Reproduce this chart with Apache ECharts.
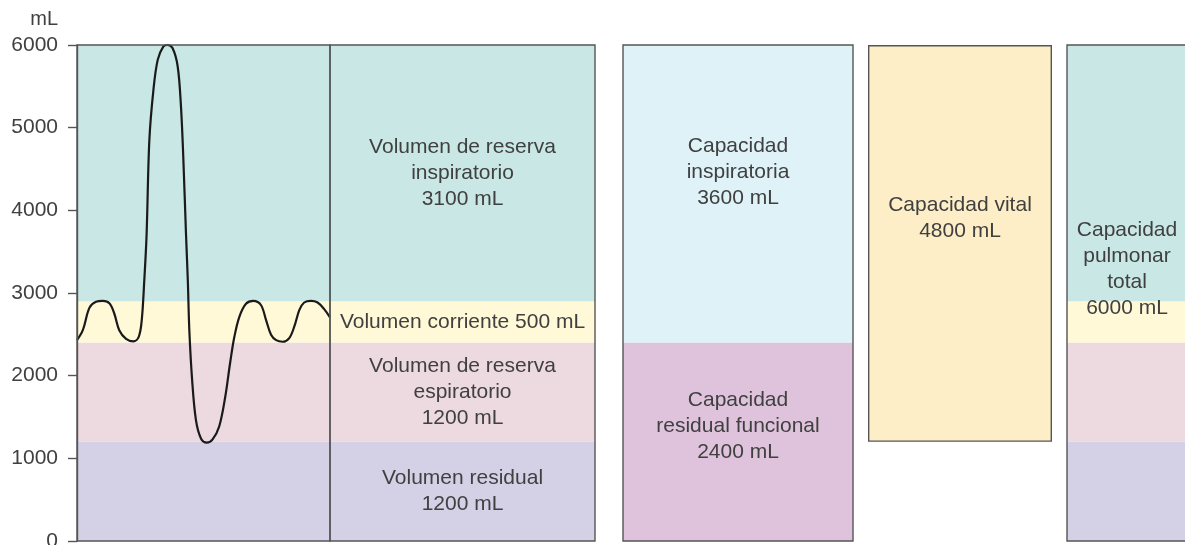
<!DOCTYPE html>
<html>
<head>
<meta charset="utf-8">
<script src="https://cdn.jsdelivr.net/npm/echarts@6/dist/echarts.min.js"></script>
<style>
html,body{margin:0;padding:0;background:#fff;}
#chart{width:1185px;height:545px;}
</style>
</head>
<body>
<div id="chart"></div>
<script>
// ---- data ----
const yTicks = [0, 1000, 2000, 3000, 4000, 5000, 6000];
const yUnit = 'mL';

// lung volumes (bottom to top)
const volNames = ['Volumen residual', 'Volumen de reserva\nespiratorio', 'Volumen corriente', 'Volumen de reserva\ninspiratorio'];
const volValues = [1200, 1200, 500, 3100];
const volSep = ['\n', '\n', ' ', '\n'];

// capacities
const capNames = ['Capacidad\nresidual funcional', 'Capacidad\ninspiratoria'];
const capValues = [2400, 3600];
const vitalName = 'Capacidad vital';
const vitalBase = 1200;
const vitalValue = 4800;
const totalName = 'Capacidad\npulmonar\ntotal';
const totalValue = 6000;

// spirogram trace (time in arbitrary units, volume in mL)
const timeSec = [0,0.23,0.49,0.75,1.02,1.28,1.47,1.67,1.94,2.23,2.44,2.56,2.66,2.75,2.86,3.02,3.19,3.41,3.58,3.78,3.98,4.11,4.20,4.31,4.38,4.44,4.55,4.70,4.90,5.13,5.36,5.62,5.86,6.05,6.22,6.42,6.68,6.97,7.27,7.47,7.67,7.87,8.13,8.39,8.59,8.79,8.98,9.25,9.51,9.77,10];
const lungVolume = [2430,2550,2820,2895,2905,2875,2755,2550,2445,2415,2470,2675,3155,3700,4850,5455,5820,5980,6000,5960,5740,5255,4650,3700,3155,2550,1950,1465,1240,1190,1230,1385,1745,2150,2470,2715,2870,2905,2855,2675,2495,2430,2410,2455,2595,2795,2885,2905,2885,2805,2705];

// ---- styles ----
const volColors = ['#d4d1e6', '#edd9e0', '#fff9d8', '#c8e7e5'];
const capColors = ['#dfc3dc', '#dff2f8'];
const vitalColor = '#fdeec7';
const FONT = 'Liberation Sans, Arial, sans-serif';
const TXT = '#404040';
const BORDER = '#555';
const labelStyle = {fontFamily: FONT, fontSize: 21, lineHeight: 26, color: TXT};

const grids = [
  {left: 77, top: 45, width: 253, height: 496},
  {left: 330, top: 45, width: 265, height: 496},
  {left: 623, top: 45, width: 230, height: 496},
  {left: 868, top: 45, width: 184, height: 496},
  {left: 1067, top: 45, width: 120, height: 496}
].map((g, i) => Object.assign({show: i !== 3, borderColor: BORDER, borderWidth: 1.4, backgroundColor: 'transparent', z: 10, containLabel: false, outerBoundsMode: 'none'}, g));

const xAxes = [];
const yAxes = [];
for (let i = 0; i < 5; i++) {
  xAxes.push({type: 'category', gridIndex: i, data: ['a'], show: false, boundaryGap: true});
  yAxes.push({type: 'value', gridIndex: i, min: yTicks[0], max: yTicks[yTicks.length - 1], interval: yTicks[1] - yTicks[0], show: i === 0});
}
// value x axis for trace (index 5)
xAxes.push({type: 'value', gridIndex: 0, min: timeSec[0], max: timeSec[timeSec.length - 1], show: false});

Object.assign(yAxes[0], {
  z: 10,
  name: yUnit,
  nameLocation: 'end',
  nameGap: 26,
  nameTextStyle: {fontFamily: FONT, fontSize: 20, color: TXT, align: 'right', verticalAlign: 'middle', padding: [0, 19, 0, 0]},
  axisLine: {show: true, lineStyle: {color: BORDER, width: 1.4}},
  axisTick: {show: true, inside: false, length: 9, lineStyle: {color: BORDER, width: 1.4}},
  axisLabel: {show: true, margin: 19, fontFamily: FONT, fontSize: 21, color: TXT, formatter: v => String(v)},
  splitLine: {show: false}
});

const series = [];
// grid 0: bands behind trace
volValues.forEach((v, i) => {
  series.push({type: 'bar', xAxisIndex: 0, yAxisIndex: 0, stack: 'g0', barWidth: '100%', silent: true,
    itemStyle: {color: volColors[i]}, data: [v]});
});
series.push({type: 'line', xAxisIndex: 5, yAxisIndex: 0, data: timeSec.map((t, i) => [t, lungVolume[i]]),
  smooth: 0.35, symbol: 'none', clip: false, z: 6, silent: true,
  lineStyle: {color: '#1a1a1a', width: 2.2}});
// grid 1: labelled volumes
volValues.forEach((v, i) => {
  series.push({type: 'bar', xAxisIndex: 1, yAxisIndex: 1, stack: 'g1', barWidth: '100%', silent: true,
    itemStyle: {color: volColors[i]}, data: [v],
    label: Object.assign({show: true, position: 'inside', formatter: () => volNames[i] + volSep[i] + v + ' mL'}, labelStyle)});
});
// grid 2: capacities
const capOffsets = [[0, -16], [0, -22]];
capValues.forEach((v, i) => {
  series.push({type: 'bar', xAxisIndex: 2, yAxisIndex: 2, stack: 'g2', barWidth: '100%', silent: true,
    itemStyle: {color: capColors[i]}, data: [v],
    label: Object.assign({show: true, position: 'inside', offset: capOffsets[i], formatter: () => capNames[i] + '\n' + v + ' mL'}, labelStyle)});
});
// grid 3: vital capacity
series.push({type: 'bar', xAxisIndex: 3, yAxisIndex: 3, stack: 'g3', barWidth: '100%', silent: true,
  itemStyle: {color: 'transparent'}, data: [vitalBase]});
series.push({type: 'bar', xAxisIndex: 3, yAxisIndex: 3, stack: 'g3', barWidth: '100%', silent: true,
  itemStyle: {color: vitalColor, borderColor: BORDER, borderWidth: 1.4}, data: [vitalValue],
  label: Object.assign({show: true, position: 'inside', offset: [0, -25], formatter: () => vitalName + '\n' + vitalValue + ' mL'}, labelStyle)});
// grid 4: total lung capacity
volValues.forEach((v, i) => {
  series.push({type: 'bar', xAxisIndex: 4, yAxisIndex: 4, stack: 'g4', barWidth: '100%', barGap: '-100%', silent: true,
    itemStyle: {color: volColors[i]}, data: [v]});
});
series.push({type: 'bar', xAxisIndex: 4, yAxisIndex: 4, barWidth: '100%', barGap: '-100%', silent: true, z: 5,
  itemStyle: {color: 'transparent'}, data: [totalValue],
  label: Object.assign({show: true, position: 'inside', offset: [0, -24], formatter: () => totalName + '\n' + totalValue + ' mL'}, labelStyle)});

const chart = echarts.init(document.getElementById('chart'), null, {renderer: 'canvas'});
chart.setOption({
  backgroundColor: '#fff',
  animation: false,
  grid: grids,
  xAxis: xAxes,
  yAxis: yAxes,
  series: series
});
</script>
</body>
</html>
